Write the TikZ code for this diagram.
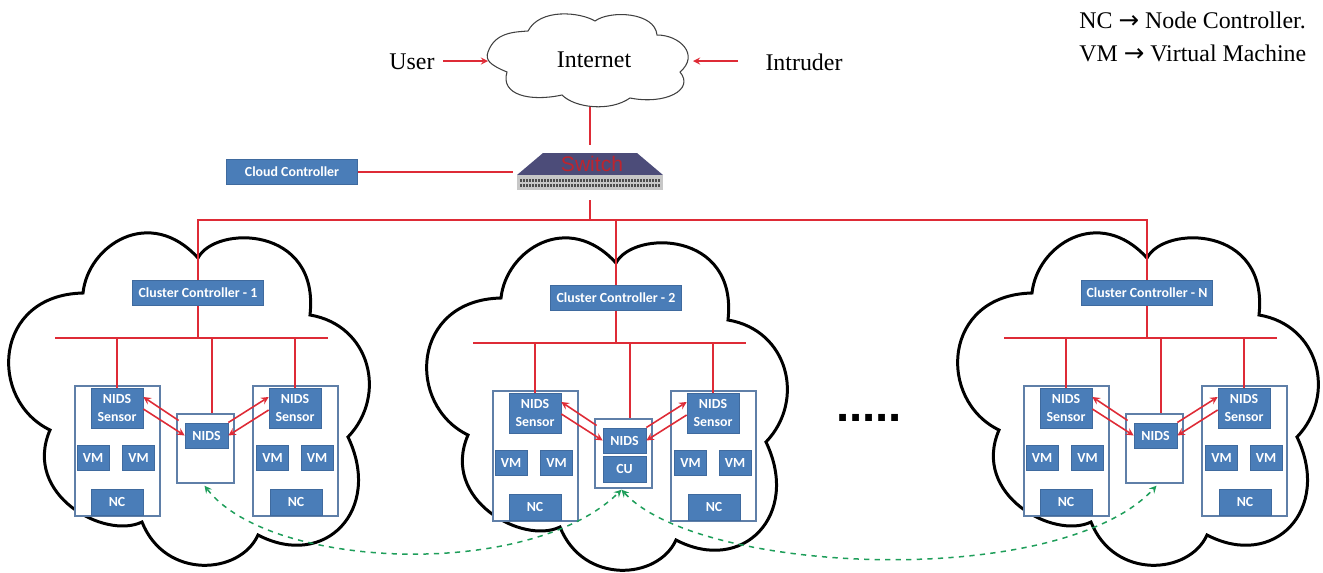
\documentclass[tikz,border=0pt]{standalone}
\usepackage{fontspec}
\setmainfont{Liberation Serif}
\newfontfamily\boxfont{Carlito}
\newfontfamily\dotfont{Liberation Sans}
\newfontfamily\arrowfont{DejaVu Sans}

\definecolor{blockblue}{HTML}{4A7DB8}
\definecolor{blockedge}{HTML}{3F6A9E}
\definecolor{hostedge}{HTML}{5F7FA8}
\definecolor{netred}{HTML}{DE2B36}
\definecolor{linkgreen}{HTML}{1E9E5A}

\tikzset{
  blockbox/.style={draw=blockedge,fill=blockblue,text=white,inner sep=0pt,align=center,font=\boxfont\bfseries\fontsize{7.9}{10.5}\selectfont},
  hostbox/.style={draw=hostedge,fill=white,line width=0.8pt,inner sep=0pt},
  netline/.style={draw=netred,line width=0.8pt},
  peerlink/.style={draw=netred,line width=0.9pt,-stealth},
  overlink/.style={draw=linkgreen,line width=0.85pt,dashed,stealth-stealth},
  bigtext/.style={font=\fontsize{13.6}{16}\selectfont,inner sep=0pt}
}

\begin{document}
\begin{tikzpicture}[x=0.02cm,y=-0.02cm]

  \useasboundingbox (0,0) rectangle (1323,572);

  \def\internetcloud{(488,52) .. controls (495,32) and (515,32) .. (528,31)
    .. controls (540,8) and (580,12) .. (595,21)
    .. controls (610,10) and (655,12) .. (657,35)
    .. controls (680,35) and (700,55) .. (680,72)
    .. controls (695,90) and (665,105) .. (630,98)
    .. controls (610,112) and (575,108) .. (562,95)
    .. controls (530,102) and (500,95) .. (507,72)
    .. controls (490,65) and (485,60) .. (488,52) -- cycle}
  \def\clustercloud{(198,258) .. controls (215,225) and (320,225) .. (310,315)
    .. controls (370,325) and (388,395) .. (348,437)
    .. controls (383,510) and (325,570) .. (258,535)
    .. controls (240,575) and (165,580) .. (142,522)
    .. controls (105,540) and (22,495) .. (50,430)
    .. controls (-12,400) and (-7,295) .. (83,293)
    .. controls (88,245) and (150,205) .. (198,258) -- cycle}

  % top of the picture
  \draw[black!75,line width=0.6pt] \internetcloud;
  \node[bigtext] (internet) at (594,60) {Internet};
  \node[bigtext] (user) at (412,62) {User};
  \node[bigtext] (intruder) at (804,62) {Intruder};
  \coordinate (inetwest) at (488,61);
  \coordinate (ineteast) at (693,61);
  \coordinate (inetsouth) at (590,107);
  \node[bigtext,anchor=west] (legendnc) at (1079,20) {NC {\arrowfont\fontsize{14}{16}\selectfont→} Node Controller.};
  \node[bigtext,anchor=west] (legendvm) at (1079,53) {VM {\arrowfont\fontsize{14}{16}\selectfont→} Virtual Machine};

  % switch
  \fill[black!75!blue!70] (543,153) -- (637,153) -- (663,175) -- (517,175) -- cycle;
  \fill[black!22] (517,175) rectangle (663,190);
  \foreach \y in {179,184}
    \foreach \x in {520,523,...,658}
      \fill[black!70] (\x,\y) rectangle ++(2,3);
  \node[text=netred!85!black,font=\dotfont\fontsize{12}{14}\selectfont,inner sep=0pt] (switch) at (592,164) {Switch};
  \coordinate (switchtop) at (590,145);
  \coordinate (switchwest) at (513,172);
  \coordinate (switchbot) at (590,200);
  \coordinate (mainbus) at (590,220);
  \node[blockbox,minimum width=2.62cm,minimum height=0.5cm] (cloudctrl) at (292,172) {Cloud Controller};

  \draw[netline,-stealth] (user) ++(31,-1) -- (inetwest);
  \draw[netline,-stealth] (intruder) ++(-66,-1) -- (ineteast);
  \draw[netline] (inetsouth) -- (switchtop);
  \draw[netline] (cloudctrl) -- (switchwest);

  % the three clusters
  \foreach \c/\dx/\dy/\lab in {1/0/0/1,2/418/5/2,3/949/0/N} {
    \begin{scope}[shift={(\dx,\dy)}]
      \draw[black,line width=1.7pt] \clustercloud;

      \node[blockbox,minimum width=2.62cm,minimum height=0.5cm] (cc\c) at (198,293) {Cluster Controller - \lab};
      \coordinate (busw\c) at (55,338);
      \coordinate (buse\c) at (328,338);
      \coordinate (busmid\c) at (212,338);

      \node[hostbox,minimum width=1.7cm,minimum height=2.6cm] (hostl\c) at (117.5,451) {};
      \node[hostbox,minimum width=1.7cm,minimum height=2.6cm] (hostr\c) at (295.5,451) {};
      \node[hostbox,minimum width=1.14cm,minimum height=1.38cm] (midbox\c) at (205.5,448.5) {};

      \node[blockbox,minimum width=1.04cm,minimum height=0.8cm] (sensorl\c) at (117,408) {NIDS\\Sensor};
      \node[blockbox,minimum width=1.04cm,minimum height=0.8cm] (sensorr\c) at (295,408) {NIDS\\Sensor};
      \node[blockbox,minimum width=0.86cm,minimum height=0.5cm] (nids\c) at (206.5,435.5) {NIDS};

      \node[blockbox,minimum width=0.64cm,minimum height=0.5cm] (vma\c) at (93,457.5) {VM};
      \node[blockbox,minimum width=0.64cm,minimum height=0.5cm] (vmb\c) at (138.5,457.5) {VM};
      \node[blockbox,minimum width=0.64cm,minimum height=0.5cm] (vmc\c) at (272.5,457.5) {VM};
      \node[blockbox,minimum width=0.64cm,minimum height=0.5cm] (vmd\c) at (317,457.5) {VM};
      \node[blockbox,minimum width=1.04cm,minimum height=0.52cm] (ncl\c) at (117,502) {NC};
      \node[blockbox,minimum width=1.04cm,minimum height=0.52cm] (ncr\c) at (296,502) {NC};

      \draw[netline] (busw\c) -- (buse\c);
      \draw[netline] (cc\c.south) -- (cc\c.south |- busw\c);
      \draw[netline] (sensorl\c.north) -- (sensorl\c.north |- busw\c);
      \draw[netline] (sensorr\c.north) -- (sensorr\c.north |- busw\c);
      \draw[netline] (busmid\c) -- (busmid\c |- midbox\c.north);

      \draw[peerlink] ([shift={(-6,-15)}]nids\c.west) -- ([shift={(0,-11)}]sensorl\c.east);
      \draw[peerlink] ([shift={(0,1)}]sensorl\c.east) -- (nids\c.west);
      \draw[peerlink] ([shift={(0,-13)}]nids\c.east) -- ([shift={(0,-11)}]sensorr\c.west);
      \draw[peerlink] ([shift={(0,2)}]sensorr\c.west) -- (nids\c.east);
    \end{scope}
  }

  \node[blockbox,minimum width=0.86cm,minimum height=0.52cm] (cu2) at (624.5,469) {CU};

  % switch down to the clusters
  \draw[netline] (switchbot) -- (mainbus);
  \draw[netline] (cc1.north) |- (mainbus) -| (cc3.north);
  \draw[netline] (cc2.north) -- (cc2.north |- mainbus);

  \node[font=\dotfont\bfseries\fontsize{27}{27}\selectfont,inner sep=0pt] (dots) at (869,418) {.....};

  % links between the NIDS boxes
  \draw[overlink] ([shift={(-1,2)}]midbox1.south) .. controls (270,570) and (530,580) .. ([shift={(-2,1)}]midbox2.south);
  \draw[overlink] ([shift={(-2,1)}]midbox2.south) .. controls (700,575) and (1060,590) .. ([shift={(2,2)}]midbox3.south);

\end{tikzpicture}
\end{document}
